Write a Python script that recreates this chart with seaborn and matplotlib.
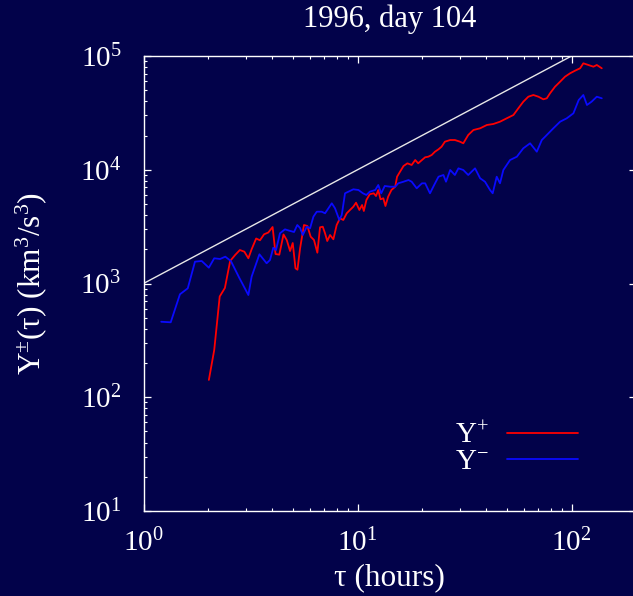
import matplotlib
matplotlib.use("Agg")
import matplotlib.pyplot as plt
import seaborn as sns
import pandas as pd
from matplotlib.ticker import LogLocator, FuncFormatter, NullFormatter

# ---- data ----
tau_plus = [2.02, 2.14, 2.27, 2.40, 2.54, 2.68, 2.82, 2.96, 3.09, 3.20, 3.36, 3.50, 3.66, 3.83,
            4.01, 4.14, 4.31, 4.51, 4.67, 4.84, 4.98, 5.13, 5.24, 5.39, 5.62, 5.83, 6.04, 6.26,
            6.49, 6.68, 6.88, 7.05, 7.22, 7.44, 7.71, 7.99, 8.28, 8.58, 8.90, 9.22, 9.56, 9.84,
            10.2, 10.5, 10.7, 11.0, 11.4, 11.9, 12.2, 12.5, 12.8, 13.2, 13.5, 13.9, 14.4, 15.0,
            15.3, 15.8, 16.4, 17.1, 17.9, 18.6, 19.2, 20.0, 20.7, 21.4, 22.2, 23.0, 23.9, 24.7,
            25.6, 27.1, 28.5, 30.1, 31.2, 32.9, 34.8, 37.4, 40.2, 43.1, 46.3, 49.8, 53.5, 56.4,
            59.5, 62.8, 66.3, 70.0, 73.8, 76.6, 79.3, 83.7, 88.4, 93.2, 98.4, 103.8, 109.6, 113.5,
            119.8, 126.5, 131.2, 138.4]
Y_plus = [142, 260, 769, 913, 1577, 1781, 1969, 1904, 1666, 1999, 2487, 2398, 2708, 2807,
          3138, 1817, 1792, 2698, 2411, 1930, 2270, 1360, 1322, 2039, 3268, 3203, 2579, 2412,
          1866, 3119, 3157, 2762, 2363, 2670, 2447, 3268, 3743, 3616, 4141, 4429, 4735, 5133,
          4429, 4900, 4340, 5422, 6084, 6209, 5877, 6637, 5499, 5611, 4801, 5795, 6637, 7096,
          8688, 9614, 10790, 11390, 11010, 12180, 11390, 12180, 12870, 13020, 13480, 14410, 15130, 15950,
          17650, 18260, 18260, 17650, 17080, 20210, 22360, 23140, 24740, 25250, 26450, 28340, 30290, 34690,
          39650, 43870, 45410, 43870, 41620, 42480, 46990, 53730, 59440, 65770, 70450, 74280, 77970, 86270,
          83370, 80530, 83370, 77970]

tau_minus = [1.21, 1.34, 1.48, 1.61, 1.74, 1.87, 2.02, 2.14, 2.28, 2.41, 2.56, 2.80, 3.09, 3.20,
             3.48, 3.76, 3.90, 4.04, 4.16, 4.34, 4.58, 4.80, 5.05, 5.23, 5.39, 5.55, 5.79, 6.00,
             6.22, 6.45, 6.80, 7.05, 7.31, 7.58, 7.85, 8.22, 8.44, 8.74, 9.06, 9.56, 10.1, 10.6,
             11.0, 11.4, 12.1, 12.5, 12.9, 13.4, 14.2, 15.0, 15.5, 16.4, 17.3, 17.9, 18.9, 20.0,
             20.7, 21.8, 22.8, 23.9, 25.2, 25.9, 27.1, 28.5, 29.6, 31.2, 32.9, 35.4, 37.4, 39.4,
             41.6, 42.8, 44.7, 46.3, 48.0, 51.6, 55.5, 59.5, 64.0, 68.8, 72.6, 76.6, 82.2, 88.4,
             95.0, 102.0, 108.0, 113.5, 118.0, 124.0, 131.2, 138.4]
Y_minus = [461, 456, 804, 907, 1555, 1577, 1377, 1666, 1642, 1721, 1577, 1125, 792, 1148,
           1806, 1506, 1609, 2064, 1969, 2763, 2994, 2912, 2836, 3268, 3075, 2670, 3157, 3057,
           3867, 4278, 4278, 4141, 4582, 5072, 4582, 3616, 4002, 6209, 6412, 6731, 6637, 6209,
           5998, 6412, 6637, 7343, 6209, 7197, 7096, 7096, 7601, 7850, 8126, 7850, 6869, 7601,
           7601, 6209, 7343, 8688, 8991, 7850, 9950, 8991, 10290, 9950, 8991, 10290, 8410, 7850,
           6637, 6209, 8688, 7601, 9950, 12180, 13020, 15440, 17080, 14410, 18260, 20210, 23140, 26450,
           28340, 31350, 41040, 45410, 37090, 39650, 43870, 42480]

ref_tau = [1.0, 100.0]
ref_Y = [1000.0, 100000.0]

series_labels = ["Y$^{+}$", "Y$^{-}$"]
title_text = "1996, day 104"
xlabel_text = "τ (hours)"
ylabel_text = "Y$^{\\pm}$(τ) (km$^{3}$/s$^{3}$)"

# ---- style ----
BG = "#02024a"
FG = "white"
sns.set_style("ticks", {"axes.facecolor": BG, "figure.facecolor": BG})
plt.rcParams["font.family"] = ["Liberation Serif", "DejaVu Serif"]
plt.rcParams["mathtext.fontset"] = "custom"
plt.rcParams["mathtext.rm"] = "Liberation Serif"
plt.rcParams["mathtext.it"] = "Liberation Serif:italic"
plt.rcParams["mathtext.bf"] = "Liberation Serif:bold"

fig = plt.figure(figsize=(6.33, 5.96), dpi=100, facecolor=BG)
ax = fig.add_axes([143.5 / 633, 1 - 511 / 596, (636 - 143.5) / 633, 455 / 596])
ax.set_facecolor(BG)

df_p = pd.DataFrame({"tau": tau_plus, "Y": Y_plus})
df_m = pd.DataFrame({"tau": tau_minus, "Y": Y_minus})
df_r = pd.DataFrame({"tau": ref_tau, "Y": ref_Y})

sns.lineplot(data=df_r, x="tau", y="Y", ax=ax, color="#e8e8e8", lw=1.0, sort=False, legend=False)
sns.lineplot(data=df_p, x="tau", y="Y", ax=ax, color="#ff0000", lw=1.3, sort=False, label=series_labels[0])
sns.lineplot(data=df_m, x="tau", y="Y", ax=ax, color="#0a0aff", lw=1.3, sort=False, label=series_labels[1])

ax.set_xscale("log")
ax.set_yscale("log")
ax.set_xlim(1, 200)
ax.set_ylim(10, 1e5)

def fmt(v, pos):
    import math
    e = int(round(math.log10(v)))
    return "10$^{%d}$" % e

for axis in (ax.xaxis, ax.yaxis):
    axis.set_major_locator(LogLocator(base=10, numticks=10))
    axis.set_minor_locator(LogLocator(base=10, subs=range(2, 10), numticks=100))
    axis.set_major_formatter(FuncFormatter(fmt))
    axis.set_minor_formatter(NullFormatter())

ax.tick_params(which="both", direction="in", top=True, right=True, colors=FG)
ax.tick_params(which="major", length=5, width=0.9, labelsize=21, labelcolor=FG)
ax.tick_params(which="minor", length=2.2, width=0.8)
ax.tick_params(axis="x", which="major", pad=13)
ax.tick_params(axis="y", which="major", pad=16)
for s in ax.spines.values():
    s.set_color(FG)
    s.set_linewidth(1.0)
    s.set_visible(True)

ax.set_title(title_text, color=FG, fontsize=22, pad=21)
ax.set_xlabel(xlabel_text, color=FG, fontsize=22.5, labelpad=4)
ax.set_ylabel(ylabel_text, color=FG, fontsize=22.5, labelpad=22)

leg = ax.legend(loc="center right", bbox_to_anchor=(0.912, 0.137), frameon=False,
                markerfirst=False, handlelength=2.45, handletextpad=0.6, labelspacing=0.0,
                borderpad=0, fontsize=21)
for t in leg.get_texts():
    t.set_color(FG)
    t.set_ha("right")

fig.savefig("out.png", dpi=100, facecolor=BG)
